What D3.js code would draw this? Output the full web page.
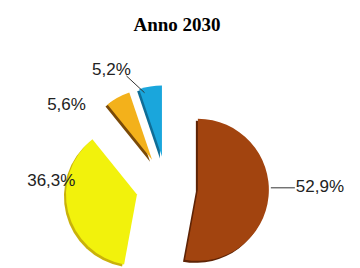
<!DOCTYPE html>
<html>
<head>
<meta charset="utf-8">
<script src="https://cdn.jsdelivr.net/npm/d3@7"></script>
<style>
  body { margin: 0; background: #fff; }
  svg { display: block; }
</style>
</head>
<body>
<script>
// Anno 2030 - exploded pie
const categories = ["A", "B", "C", "D"];
const values = [52.9, 36.3, 5.6, 5.2];
const labels = ["52,9%", "36,3%", "5,6%", "5,2%"];

const colors = ["#a2440f", "#f2f20c", "#f3b11b", "#1aa6dc"];
const shades = ["#5e2305", "#c9b20a", "#7a4a08", "#0f6d96"];

var width = 360, height = 268;
var cx = 167, cy = 187, r = 71, explode = 31;

// label placement (angle deg, distance from slice vertex)
const labelLayout = [[88, 98], [280, 87], [303, 102], [330, 101]];

const svg = d3.select("body").append("svg")
  .attr("width", width)
  .attr("height", height);

svg.append("text")
  .attr("x", 177).attr("y", 31)
  .attr("text-anchor", "middle")
  .style("font-family", "'Liberation Serif', serif")
  .style("font-weight", "bold")
  .style("font-size", "19px")
  .text("Anno 2030");

const pie = d3.pie().sort(null).startAngle(0).endAngle(2 * Math.PI);
const arc = d3.arc().innerRadius(0).outerRadius(r);
const arcs = pie(values);

const polar = (a, d) => [d * Math.sin(a), -d * Math.cos(a)];

const g = svg.selectAll("g.slice")
  .data(arcs).enter()
  .append("g")
  .attr("class", "slice")
  .attr("transform", d => {
    const m = (d.startAngle + d.endAngle) / 2;
    const p = polar(m, explode);
    return `translate(${cx + p[0]},${cy + p[1]})`;
  });

// thin darker rim to fake the 3D edge
g.append("path")
  .attr("d", arc)
  .attr("transform", "translate(-2,2)")
  .attr("fill", (d, i) => shades[i]);

g.append("path")
  .attr("d", arc)
  .attr("fill", (d, i) => colors[i]);

g.append("text")
  .attr("x", (d, i) => polar(labelLayout[i][0] * Math.PI / 180, labelLayout[i][1])[0])
  .attr("y", (d, i) => polar(labelLayout[i][0] * Math.PI / 180, labelLayout[i][1])[1] + 6)
  .attr("text-anchor", (d, i) => i === 0 ? "start" : "middle")
  .style("font-family", "'Liberation Sans', sans-serif")
  .style("font-size", "17px")
  .style("fill", "#222")
  .text((d, i) => labels[i]);

// leader lines
g.filter((d, i) => i === 0).append("line")
  .attr("x1", r + 2).attr("y1", -2)
  .attr("x2", 97).attr("y2", -2)
  .attr("stroke", "#333").attr("stroke-width", 1);

g.filter((d, i) => i === 3).each(function(d) {
  const a = labelLayout[3][0] * Math.PI / 180;
  const p = polar(a, labelLayout[3][1]);
  const e = polar(d.startAngle + 0.06, r - 5);
  d3.select(this).append("line")
    .attr("x1", p[0] + 15).attr("y1", p[1] + 7)
    .attr("x2", e[0]).attr("y2", e[1])
    .attr("stroke", "#333").attr("stroke-width", 1);
});
</script>
</body>
</html>
